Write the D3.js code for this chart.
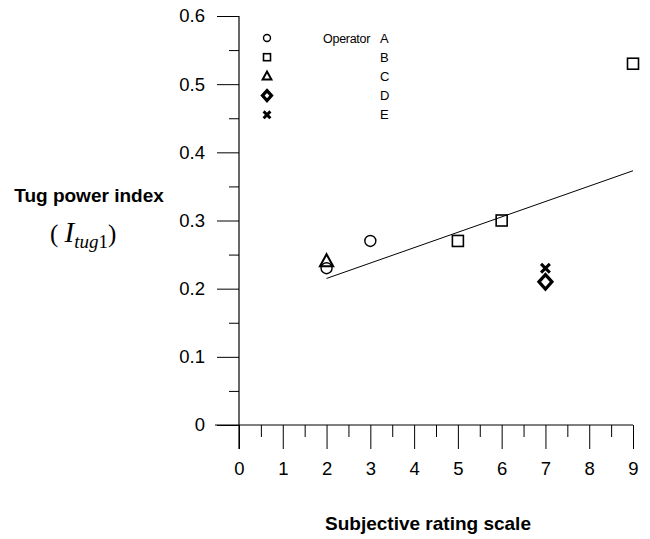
<!DOCTYPE html>
<html><head><meta charset="utf-8">
<script src="https://cdn.jsdelivr.net/npm/d3@7"></script>
<style>body{margin:0;background:#fff}svg{display:block}</style>
</head><body>
<svg id="c" width="650" height="539"></svg>
<script>
const xTicks = [0,1,2,3,4,5,6,7,8,9];
const yTicks = [0,0.1,0.2,0.3,0.4,0.5,0.6];
const yTickLabels = ["0","0.1","0.2","0.3","0.4","0.5","0.6"];
const operators = ["A","B","C","D","E"];
const symbols = ["circle","square","triangle","diamond","cross"];
const opA = [[2,0.23],[3,0.27]];
const opB = [[5,0.27],[6,0.30],[9,0.53]];
const opC = [[2,0.24]];
const opD = [[7,0.21]];
const opE = [[7,0.23]];
const fitLine = [[2,0.215],[9,0.373]];

const svg = d3.select("#c");
const x = d3.scaleLinear().domain([0,9]).range([239,633]);
const y = d3.scaleLinear().domain([0,0.6]).range([425,16]);
const font = "'Liberation Sans', Arial, sans-serif";

// axes lines
svg.append("line").attr("x1",215).attr("x2",x(9)).attr("y1",y(0)).attr("y2",y(0)).attr("stroke","#000").attr("stroke-width",1.2);
svg.append("line").attr("x1",x(0)).attr("x2",x(0)).attr("y1",y(0.6)).attr("y2",449).attr("stroke","#000").attr("stroke-width",1.2);

// y axis
const yAx = svg.append("g").attr("transform",`translate(${x(0)},0)`)
  .call(d3.axisLeft(y).tickValues(yTicks).tickSize(22).tickPadding(12).tickFormat((d,i)=>yTickLabels[i]));
yAx.select(".domain").remove();
yAx.selectAll("text").attr("font-family",font).attr("font-size",18.5).attr("fill","#000");
yAx.selectAll("line").attr("stroke","#000");
const yMin = svg.append("g").attr("transform",`translate(${x(0)},0)`)
  .call(d3.axisLeft(y).tickValues(d3.range(0.05,0.6,0.1)).tickSize(10).tickFormat(""));
yMin.select(".domain").remove();
yMin.selectAll("line").attr("stroke","#000");

// x axis
const xAx = svg.append("g").attr("transform",`translate(0,${y(0)})`)
  .call(d3.axisBottom(x).tickValues(xTicks).tickSize(24).tickPadding(13));
xAx.select(".domain").remove();
xAx.selectAll("text").attr("font-family",font).attr("font-size",18.5).attr("fill","#000");
xAx.selectAll("line").attr("stroke","#000");
const xMin = svg.append("g").attr("transform",`translate(0,${y(0)})`)
  .call(d3.axisBottom(x).tickValues(d3.range(0.5,9,1)).tickSize(12).tickFormat(""));
xMin.select(".domain").remove();
xMin.selectAll("line").attr("stroke","#000");

// fit line
svg.append("path").datum(fitLine)
  .attr("d", d3.line().x(d=>x(d[0])).y(d=>y(d[1])))
  .attr("stroke","#000").attr("stroke-width",1).attr("fill","none");

function marker(g, type, cx, cy, s) {
  const sw = {circle:1.4,square:1.6,triangle:2,diamond:3.2,cross:3}[type];
  const gg = g.append("g").attr("transform",`translate(${cx},${cy})`);
  if (type==="circle") gg.append("circle").attr("r",s/2).attr("fill","none").attr("stroke","#000").attr("stroke-width",sw);
  if (type==="square") gg.append("rect").attr("x",-s/2).attr("y",-s/2).attr("width",s).attr("height",s).attr("fill","none").attr("stroke","#000").attr("stroke-width",sw);
  if (type==="triangle") gg.append("path").attr("d",`M0,${-s*0.6}L${s*0.55},${s*0.4}L${-s*0.55},${s*0.4}Z`).attr("fill","none").attr("stroke","#000").attr("stroke-width",sw);
  if (type==="diamond") gg.append("path").attr("d",`M0,${-s*0.55}L${s*0.5},0L0,${s*0.55}L${-s*0.5},0Z`).attr("fill","none").attr("stroke","#000").attr("stroke-width",sw);
  if (type==="cross") gg.append("path").attr("d",`M${-s*0.4},${-s*0.4}L${s*0.4},${s*0.4}M${s*0.4},${-s*0.4}L${-s*0.4},${s*0.4}`).attr("stroke","#000").attr("stroke-width",sw);
}

const series = [opA,opB,opC,opD,opE];
const pts = svg.append("g");
series.forEach((s,i)=>{
  s.forEach(d=>marker(pts, symbols[i], x(d[0]), y(d[1]), {circle:11,square:11,triangle:12,diamond:13,cross:11}[symbols[i]]));
});

// legend
const leg = svg.append("g");
operators.forEach((op,i)=>{
  const ly = 38 + i*19.2;
  marker(leg, symbols[i], 267, ly, {circle:7,square:7,triangle:8,diamond:9,cross:8.5}[symbols[i]]);
  leg.append("text").attr("x",380).attr("y",ly).attr("dy","0.36em")
    .attr("font-family",font).attr("font-size",13).text(op);
});
leg.append("text").attr("x",370).attr("y",38).attr("dy","0.36em").attr("text-anchor","end")
  .attr("font-family",font).attr("font-size",12.5).attr("letter-spacing",-0.3).text("Operator");

// axis titles
svg.append("text").attr("x",89).attr("y",195).attr("dy","0.36em").attr("text-anchor","middle")
  .attr("font-family",font).attr("font-weight","bold").attr("font-size",19).text("Tug power index");
const t2 = svg.append("text").attr("x",50).attr("y",242).attr("font-family","'Liberation Serif','Times New Roman',serif").attr("font-size",25);
t2.append("tspan").text("( ");
t2.append("tspan").attr("font-style","italic").attr("font-size",29).text("I");
t2.append("tspan").attr("font-style","italic").attr("font-size",19).attr("dy",6).text("tug");
t2.append("tspan").attr("font-size",19).text("1");
t2.append("tspan").attr("dy",-6).text(")");

svg.append("text").attr("x",428).attr("y",523).attr("dy","0.36em").attr("text-anchor","middle")
  .attr("font-family",font).attr("font-weight","bold").attr("font-size",19).text("Subjective rating scale");
</script>
</body></html>
